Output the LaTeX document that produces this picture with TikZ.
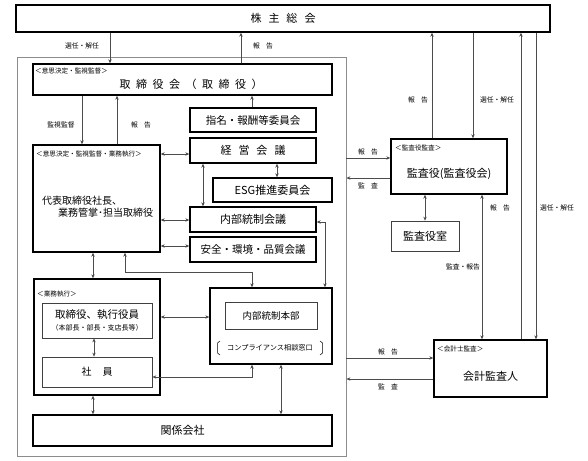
\documentclass[tikz,border=0pt]{standalone}
\usepackage{fontspec}
\setmainfont{Noto Sans CJK JP}
\usetikzlibrary{arrows.meta}
\begin{document}
\begin{tikzpicture}[x=1pt,y=-1pt,
  bigbox/.style={draw=black,line width=1.4pt,fill=white,inner sep=0pt,font=\fontsize{11}{13}\selectfont},
  thinbox/.style={draw=black!75,line width=0.7pt,fill=white,inner sep=0pt},
  arr/.style={draw=black!70,line width=0.6pt,-{Stealth[length=4pt,width=3.4pt]}},
  dbl/.style={draw=black!70,line width=0.6pt,{Stealth[length=4pt,width=3.4pt]}-{Stealth[length=4pt,width=3.4pt]}},
  lbl/.style={font=\fontsize{6.8}{8}\selectfont,inner sep=0pt},
  tag/.style={font=\fontsize{6.6}{8}\selectfont,inner sep=0pt,anchor=west},
  txt/.style={inner sep=0pt}
]
\useasboundingbox (0,0) rectangle (588,460);

% outer frame
\node[draw=black!45,line width=0.8pt,minimum width=329pt,minimum height=399pt,inner sep=0pt] (frame) at (181.5,256.5) {};

% boxes
\node[bigbox,minimum width=534pt,minimum height=27pt] (shm) at (283,18.5) {\fontsize{11}{13}\selectfont 株\hspace{7pt}主\hspace{7pt}総\hspace{7pt}会};
\node[bigbox,minimum width=299pt,minimum height=31pt] (tb) at (182.5,79.5) {};
\node[bigbox,minimum width=126pt,minimum height=24pt,font=\fontsize{10.5}{12}\selectfont] (shimei) at (253,120) {指名・報酬等委員会};
\node[bigbox,minimum width=126pt,minimum height=25pt] (keiei) at (253,150.5) {経\hspace{7pt}営\hspace{7pt}会\hspace{7pt}議};
\node[bigbox,minimum width=119pt,minimum height=24pt] (esg) at (272.5,190) {ESG推進委員会};
\node[bigbox,minimum width=126pt,minimum height=25pt] (naibu) at (253,219.5) {内部統制会議};
\node[bigbox,minimum width=126pt,minimum height=25pt,font=\fontsize{10.5}{12}\selectfont] (anzen) at (253,249.5) {安全・環境・品質会議};
\node[bigbox,minimum width=127pt,minimum height=107pt] (daihyo) at (96.5,198.5) {};
\node[bigbox,minimum width=126pt,minimum height=116pt] (gyomu) at (97,337) {};
\node[thinbox,minimum width=110pt,minimum height=35pt] (yakuin) at (97,320.5) {};
\node[thinbox,minimum width=110pt,minimum height=30pt,font=\fontsize{10}{12}\selectfont] (shain) at (97,372) {社\hspace{11pt}員};
\node[bigbox,minimum width=122pt,minimum height=76pt] (honbu) at (271,326) {};
\node[thinbox,minimum width=92pt,minimum height=27pt,font=\fontsize{9.5}{11}\selectfont] (honbuin) at (271,315.5) {内部統制本部};
\node[bigbox,minimum width=299pt,minimum height=31pt] (kankei) at (182.5,430.5) {関係会社};
\node[bigbox,minimum width=116pt,minimum height=55pt] (kansa) at (449,166.5) {};
\node[thinbox,minimum width=68pt,minimum height=30pt,font=\fontsize{11}{13}\selectfont] (kansashitsu) at (425,236) {監査役室};
\node[bigbox,minimum width=113pt,minimum height=57pt] (kaikei) at (490.5,368.5) {};

% texts inside boxes
\node[txt,font=\fontsize{11}{13}\selectfont] (tbtext) at (191,84) {取\hspace{5.5pt}締\hspace{5.5pt}役\hspace{5.5pt}会\hspace{5.5pt}（\hspace{5.5pt}取\hspace{5.5pt}締\hspace{5.5pt}役\hspace{5.5pt}）};
\node[tag] (tbtag) at (35,71) {＜意思決定・監視監督＞};
\node[tag] (dhtag) at (36,154) {＜意思決定・監視監督・業務執行＞};
\node[txt,anchor=west,font=\fontsize{10}{12}\selectfont] (dh1) at (42,201) {代表取締役社長、};
\node[txt,anchor=west,font=\fontsize{10}{12}\selectfont] (dh2) at (58,213) {業務管掌･担当取締役};
\node[tag] (gytag) at (37,294) {＜業務執行＞};
\node[txt,font=\fontsize{10.5}{12}\selectfont] (yk1) at (97,315) {取締役、執行役員};
\node[txt,font=\fontsize{7}{8}\selectfont] (yk2) at (97,328) {（本部長・部長・支店長等）};
\node[txt,font=\fontsize{7.2}{8}\selectfont] (comp) at (270,348) {コンプライアンス相談窓口};
\draw[line width=0.5pt] (220,341) -- (217.5,343) -- (217.5,353) -- (220,355);
\draw[line width=0.5pt] (320,341) -- (322.5,343) -- (322.5,353) -- (320,355);
\node[tag] (kstag) at (395,148) {＜監査役監査＞};
\node[txt,font=\fontsize{11}{13}\selectfont] (kstext) at (449,174) {監査役(監査役会)};
\node[tag] (kktag) at (437,349) {＜会計士監査＞};
\node[txt,font=\fontsize{11}{13}\selectfont] (kktext) at (490.5,376) {会計監査人};

% helper coordinates
\coordinate (x82) at (82,0);
\coordinate (x93) at (93,0);
\coordinate (x94) at (94,0);
\coordinate (x110) at (110,0);
\coordinate (x117) at (117,0);
\coordinate (x125) at (125,0);
\coordinate (x203) at (203,0);
\coordinate (x241) at (241,0);
\coordinate (x252) at (252,0);
\coordinate (x277) at (277,0);
\coordinate (x281) at (281,0);
\coordinate (x325) at (325,0);
\coordinate (x425) at (425,0);
\coordinate (x432) at (432,0);
\coordinate (x473) at (473,0);
\coordinate (x482) at (482,0);
\coordinate (x521) at (521,0);
\coordinate (x536) at (536,0);
\coordinate (y154) at (0,154);
\coordinate (y158) at (0,158);
\coordinate (y178) at (0,178);
\coordinate (y220) at (0,220);
\coordinate (y222) at (0,222);
\coordinate (y246) at (0,246);
\coordinate (y272) at (0,272);
\coordinate (y317) at (0,317);
\coordinate (y358) at (0,358);
\coordinate (y377) at (0,377);
\coordinate (y379) at (0,379);

% connectors
\draw[arr] (shm.south -| x110) -- (tb.north -| x110);
\draw[arr] (tb.north -| x241) -- (shm.south -| x241);
\draw[arr] (kansa.north -| x432) -- (shm.south -| x432);
\draw[arr] (shm.south -| x473) -- (kansa.north -| x473);
\draw[arr] (kaikei.north -| x521) -- (shm.south -| x521);
\draw[arr] (shm.south -| x536) -- (kaikei.north -| x536);
\draw[arr] (tb.south -| x82) -- (daihyo.north -| x82);
\draw[arr] (daihyo.north -| x117) -- (tb.south -| x117);
\draw[arr] (shimei.north -| x252) -- (tb.south -| x252);
\draw[dbl] (daihyo.east |- y154) -- (keiei.west |- y154);
\draw[dbl] (daihyo.east |- y220) -- (naibu.west |- y220);
\draw[dbl] (daihyo.east |- y246) -- (anzen.west |- y246);
\draw[dbl] (keiei.south -| x203) -- (naibu.north -| x203);
\draw[dbl] (keiei.south -| x277) -- (esg.north -| x277);
\draw[dbl] (naibu.east |- y222) -| (honbu.north -| x325);
\draw[dbl] (daihyo.south -| x125) |- (y272 -| x252) -- (honbu.north -| x252);
\draw[dbl] (daihyo.south -| x93) -- (gyomu.north -| x93);
\draw[dbl] (gyomu.east |- y317) -- (honbu.west |- y317);
\draw[dbl] (shain.east |- y377) -| (honbu.south -| x252);
\draw[dbl] (yakuin.south -| x94) -- (shain.north -| x94);
\draw[dbl] (gyomu.south -| x93) -- (kankei.north -| x93);
\draw[dbl] (honbu.south -| x281) -- (kankei.north -| x281);
\draw[dbl] (kansa.south -| x425) -- (kansashitsu.north -| x425);
\draw[dbl] (kansa.south -| x482) -- (kaikei.north -| x482);
\draw[arr] (frame.east |- y158) -- (kansa.west |- y158);
\draw[arr] (kansa.west |- y178) -- (frame.east |- y178);
\draw[arr] (frame.east |- y358) -- (kaikei.west |- y358);
\draw[arr] (kaikei.west |- y379) -- (frame.east |- y379);

% connector labels
\node[lbl] (l1) at (82,46) {選任・解任};
\node[lbl] (l2) at (263,46) {報\hspace{6pt}告};
\node[lbl] (l3) at (61,125) {監視監督};
\node[lbl] (l4) at (141,125) {報\hspace{6pt}告};
\node[lbl] (l5) at (418,100) {報\hspace{6pt}告};
\node[lbl] (l6) at (497,100) {選任・解任};
\node[lbl] (l7) at (368,152) {報\hspace{6pt}告};
\node[lbl] (l8) at (368,186) {監\hspace{6pt}査};
\node[lbl] (l9) at (500,208) {報\hspace{6pt}告};
\node[lbl] (l10) at (557,208) {選任・解任};
\node[lbl] (l11) at (463,267) {監査・報告};
\node[lbl] (l12) at (388,352) {報\hspace{6pt}告};
\node[lbl] (l13) at (388,387) {監\hspace{6pt}査};
\end{tikzpicture}
\end{document}
